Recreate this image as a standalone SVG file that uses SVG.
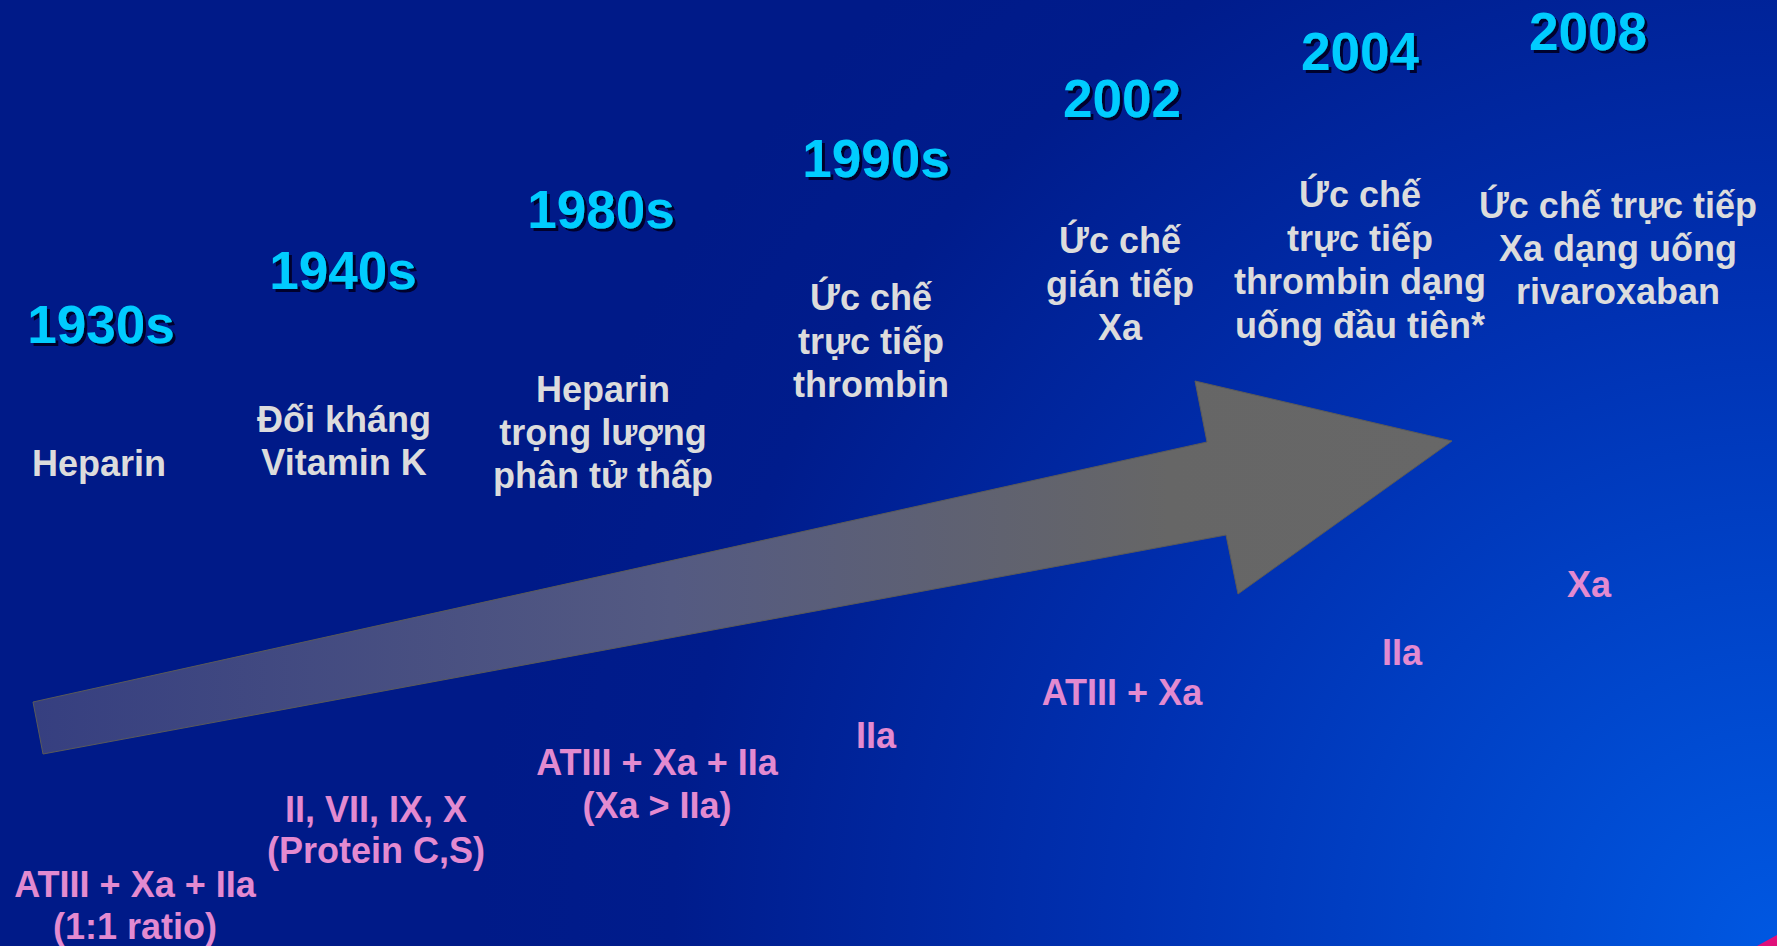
<svg xmlns="http://www.w3.org/2000/svg" width="1777" height="946" viewBox="0 0 1777 946">
<defs>
<radialGradient id="bg" gradientUnits="userSpaceOnUse" cx="1777" cy="946" r="1300">
<stop offset="0" stop-color="#0058e2"/>
<stop offset="0.5" stop-color="#0031b2"/>
<stop offset="0.85" stop-color="#001c8c"/>
<stop offset="1" stop-color="#001a88"/>
</radialGradient>
<linearGradient id="arrowGrad" gradientUnits="userSpaceOnUse" x1="33" y1="0" x2="1452" y2="0">
<stop offset="0" stop-color="#363f80"/>
<stop offset="0.45" stop-color="#545a82"/>
<stop offset="0.8" stop-color="#666666"/>
<stop offset="1" stop-color="#676767"/>
</linearGradient>
<filter id="sh" x="-10%" y="-20%" width="130%" height="150%">
<feDropShadow dx="3" dy="3" stdDeviation="0.6" flood-color="#000028" flood-opacity="0.95"/>
</filter>
</defs>
<style>
text{font-family:"Liberation Sans",Arial,"DejaVu Sans",sans-serif;font-weight:bold;text-anchor:middle}
.yr{font-size:53px;fill:#00ccff;filter:url(#sh)}
.w{font-size:36px;fill:#dcdcdc}
.p{font-size:36px;fill:#e38ad0}
</style>
<rect x="0" y="0" width="1777" height="946" fill="url(#bg)"/>
<polygon points="1757,946 1777,935 1777,946" fill="#e0107a"/>
<g id="connectors">
<polygon points="33,702 1207,442 1195,381 1452,441 1238,594 1226,535 43,754" fill="url(#arrowGrad)" stroke="#5a5a5a" stroke-width="1"/>
</g>
<g id="n1930">
<text class="yr" x="101" y="343">1930s</text>
<text class="w" x="99" y="476">Heparin</text>
<text class="p" x="135" y="897">ATIII + Xa + IIa</text>
<text class="p" x="135" y="939">(1:1 ratio)</text>
</g>
<g id="n1940">
<text class="yr" x="343" y="289">1940s</text>
<text class="w" x="344" y="432">Đối kháng</text>
<text class="w" x="344" y="475">Vitamin K</text>
<text class="p" x="376" y="822">II, VII, IX, X</text>
<text class="p" x="376" y="863">(Protein C,S)</text>
</g>
<g id="n1980">
<text class="yr" x="601" y="228">1980s</text>
<text class="w" x="603" y="402">Heparin</text>
<text class="w" x="603" y="445">trọng lượng</text>
<text class="w" x="603" y="488">phân tử thấp</text>
<text class="p" x="657" y="775">ATIII + Xa + IIa</text>
<text class="p" x="657" y="818">(Xa &gt; IIa)</text>
</g>
<g id="n1990">
<text class="yr" x="876" y="177">1990s</text>
<text class="w" x="871" y="310">Ức chế</text>
<text class="w" x="871" y="354">trực tiếp</text>
<text class="w" x="871" y="397">thrombin</text>
<text class="p" x="876" y="748">IIa</text>
</g>
<g id="n2002">
<text class="yr" x="1122" y="117">2002</text>
<text class="w" x="1120" y="253">Ức chế</text>
<text class="w" x="1120" y="297">gián tiếp</text>
<text class="w" x="1120" y="340">Xa</text>
<text class="p" x="1122" y="705">ATIII + Xa</text>
</g>
<g id="n2004">
<text class="yr" x="1360" y="70">2004</text>
<text class="w" x="1360" y="207">Ức chế</text>
<text class="w" x="1360" y="251">trực tiếp</text>
<text class="w" x="1360" y="294">thrombin dạng</text>
<text class="w" x="1360" y="338">uống đầu tiên*</text>
<text class="p" x="1402" y="665">IIa</text>
</g>
<g id="n2008">
<text class="yr" x="1588" y="50">2008</text>
<text class="w" x="1618" y="218">Ức chế trực tiếp</text>
<text class="w" x="1618" y="261">Xa dạng uống</text>
<text class="w" x="1618" y="304">rivaroxaban</text>
<text class="p" x="1589" y="597">Xa</text>
</g>
</svg>
